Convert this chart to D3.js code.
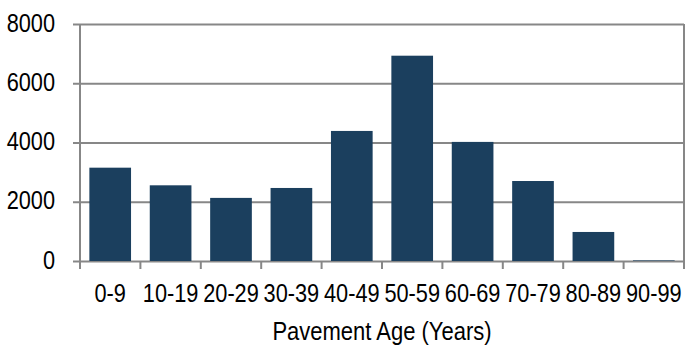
<!DOCTYPE html>
<html>
<head>
<meta charset="utf-8">
<script src="https://cdn.jsdelivr.net/npm/d3@7"></script>
<style>
  body { margin: 0; background: #fff; }
  svg text { font-family: "Liberation Sans", Arial, sans-serif; fill: #000; }
</style>
</head>
<body>
<div id="chart"></div>
<script>
// pavement age buckets and counts
const categories = ['0-9', '10-19', '20-29', '30-39', '40-49', '50-59', '60-69', '70-79', '80-89', '90-99'];
const counts = [3150, 2555, 2130, 2465, 4390, 6930, 4020, 2700, 980, 20];
const yTicks = [0, 2000, 4000, 6000, 8000];
const xTitle = 'Pavement Age (Years)';

const width = 700, height = 362;
const margin = {top: 24, right: 16, bottom: 101, left: 80};
const innerW = width - margin.left - margin.right;
const innerH = height - margin.top - margin.bottom;
const gridColor = '#878787';
const squeeze = 0.87; // reference text is narrow

const svg = d3.select('#chart').append('svg')
    .attr('width', width).attr('height', height);
const g = svg.append('g').attr('transform', 'translate(' + margin.left + ',' + margin.top + ')');

const x = d3.scaleBand().domain(categories).range([0, innerW]).paddingInner(0.31).paddingOuter(0.155);
const y = d3.scaleLinear().domain([0, 8000]).range([innerH, 0]);

// horizontal gridlines + y labels
const yAxis = g.append('g')
    .call(d3.axisLeft(y).tickValues(yTicks).tickFormat(d3.format('d')).tickSize(-innerW).tickSizeOuter(0));
yAxis.select('.domain').remove();
yAxis.selectAll('.tick line').attr('stroke', gridColor).attr('stroke-width', 2).attr('x1', -7);
yAxis.selectAll('.tick text')
    .style('font-size', '25px')
    .attr('x', -25 / squeeze)
    .attr('dy', '0.28em')
    .attr('transform', 'scale(' + squeeze + ',1)');

// bars
g.append('g').selectAll('rect')
    .data(categories)
    .enter().append('rect')
        .attr('x', (d) => x(d))
        .attr('width', x.bandwidth())
        .attr('y', (d, i) => y(counts[i]))
        .attr('height', (d, i) => innerH - y(counts[i]))
        .attr('fill', '#1b3f5e');

// left and right frame lines
g.append('line').attr('x1', 0).attr('x2', 0).attr('y1', 0).attr('y2', innerH + 8)
    .attr('stroke', gridColor).attr('stroke-width', 2);
g.append('line').attr('x1', innerW).attr('x2', innerW).attr('y1', 0).attr('y2', innerH + 8)
    .attr('stroke', gridColor).attr('stroke-width', 2);

// category ticks at band edges
const edges = d3.scaleLinear().domain([0, categories.length]).range([0, innerW]);
g.append('g').selectAll('line.edge')
    .data(d3.range(categories.length + 1))
    .enter().append('line')
        .attr('class', 'edge')
        .attr('x1', (d) => edges(d)).attr('x2', (d) => edges(d))
        .attr('y1', innerH).attr('y2', innerH + 8)
        .attr('stroke', gridColor).attr('stroke-width', 2);

// x labels
const xAxis = g.append('g').attr('transform', 'translate(0,' + innerH + ')')
    .call(d3.axisBottom(x).tickSize(0));
xAxis.select('.domain').remove();
xAxis.selectAll('.tick text')
    .style('font-size', '25px')
    .attr('y', 41)
    .attr('dy', 0)
    .attr('transform', 'scale(' + squeeze + ',1)');

g.append('text')
    .attr('transform', 'translate(' + (innerW / 2) + ',' + (innerH + 79) + ') scale(0.88,1)')
    .attr('text-anchor', 'middle')
    .style('font-size', '25px')
    .text(xTitle);
</script>
</body>
</html>
